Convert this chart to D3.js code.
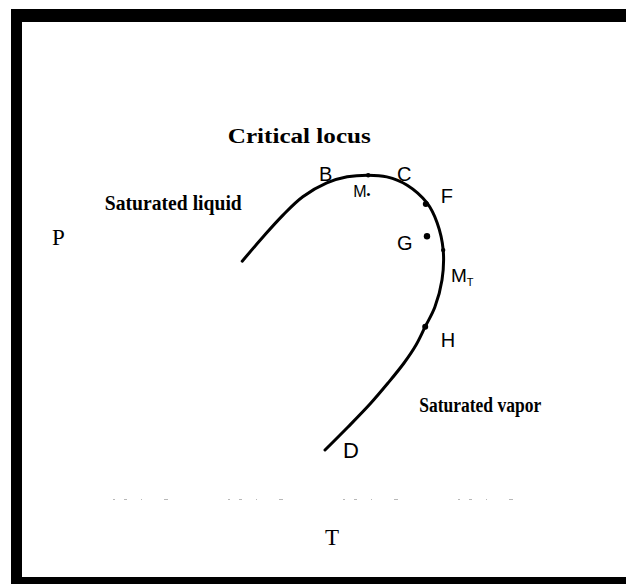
<!DOCTYPE html>
<html>
<head>
<meta charset="utf-8">
<script src="https://cdn.jsdelivr.net/npm/d3@7"></script>
<style>
  html, body { margin: 0; padding: 0; background: #fff; }
  svg { display: block; }
</style>
</head>
<body>
<svg id="chart" width="626" height="584"></svg>
<script>
// Phase envelope of a mixture in the P–T plane (arbitrary units, 0–100 on each axis)
const envelopeT = [36.7, 40.2, 43.5, 46.8, 50.8, 54.2, 57.7, 60.8, 64.2, 67.5, 69.2, 70.2, 70.0, 68.8, 67.2, 65.67, 63.67, 61.0, 58.0, 54.33, 50.5];
const envelopeP = [56.9, 61.3, 65.2, 68.5, 71.0, 72.1, 72.4, 72.1, 70.6, 67.4, 63.8, 58.9, 53.5, 48.6, 45.1, 41.8, 38.56, 34.95, 31.17, 27.03, 22.88];

// Marked states on the envelope (cricondenbar, F, cricondentherm, H)
const pointT = [57.7, 67.3, 70.2, 67.2];
const pointP = [72.4, 67.2, 58.9, 45.1];
const pointR = [2.2, 3, 2.2, 3];

// Isolated state G inside the envelope
const stateGT = [67.5];
const stateGP = [61.4];

// Letter labels for the states
const letterText = ["B", "C", "F", "G", "H", "D"];
const letterT = [49.5, 62.5, 69.8, 62.5, 69.8, 53.5];
const letterP = [71.4, 71.4, 67.4, 58.9, 41.4, 21.4];

// Region captions
const captionText = ["Critical locus", "Saturated liquid", "Saturated vapor"];
const captionT = [34.3, 13.8, 66.2];
const captionP = [78.2, 66.1, 29.7];
const captionWidth = [143, 137, 122];

const svg = d3.select("#chart");

const x = d3.scaleLinear().domain([0, 100]).range([22, 622]);
const y = d3.scaleLinear().domain([0, 100]).range([577, 22]);

// Frame: heavy top, left and bottom rules
svg.append("rect").attr("x", 11).attr("y", 9).attr("width", 615).attr("height", 13).attr("fill", "#000");
svg.append("rect").attr("x", 11).attr("y", 9).attr("width", 11).attr("height", 575).attr("fill", "#000");
svg.append("rect").attr("x", 11).attr("y", 577).attr("width", 615).attr("height", 7).attr("fill", "#000");

// Faint temperature axis
svg.append("line")
  .attr("x1", 113).attr("x2", 557).attr("y1", 499.5).attr("y2", 499.5)
  .attr("stroke", "#b8b8b8").attr("stroke-width", 1)
  .attr("stroke-dasharray", "2,9,3,14,1,22,4,60");

// Envelope curve
const envelope = envelopeT.map((t, i) => [t, envelopeP[i]]);
const line = d3.line()
  .x(d => x(d[0]))
  .y(d => y(d[1]))
  .curve(d3.curveCatmullRom.alpha(0.5));

svg.append("path")
  .datum(envelope)
  .attr("d", line)
  .attr("fill", "none")
  .attr("stroke", "#000")
  .attr("stroke-width", 3)
  .attr("stroke-linecap", "round");

// Points on the envelope
svg.selectAll("circle.pt")
  .data(pointT.map((t, i) => ({ t, p: pointP[i], r: pointR[i] })))
  .join("circle")
  .attr("class", "pt")
  .attr("cx", d => x(d.t))
  .attr("cy", d => y(d.p))
  .attr("r", d => d.r)
  .attr("fill", "#000");

// State G
svg.selectAll("circle.g")
  .data(stateGT.map((t, i) => ({ t, p: stateGP[i] })))
  .join("circle")
  .attr("class", "g")
  .attr("cx", d => x(d.t))
  .attr("cy", d => y(d.p))
  .attr("r", 3.2)
  .attr("fill", "#000");

// Letters
svg.selectAll("text.letter")
  .data(letterText.map((s, i) => ({ s, t: letterT[i], p: letterP[i] })))
  .join("text")
  .attr("class", "letter")
  .attr("x", d => x(d.t))
  .attr("y", d => y(d.p))
  .attr("font-family", "Liberation Sans, Arial, sans-serif")
  .attr("font-size", d => d.s === "D" ? 22 : 20)
  .attr("fill", "#000")
  .text(d => d.s);

// M with subscripts: cricondenbar (top) and cricondentherm (right)
const mp = svg.append("text")
  .attr("x", x(55.2)).attr("y", y(68.5))
  .attr("font-family", "Liberation Sans, Arial, sans-serif")
  .attr("font-size", 16).attr("fill", "#000");
mp.append("tspan").text("M");
mp.append("tspan").attr("font-size", 11).attr("dy", 1).text("•");

const mt = svg.append("text")
  .attr("x", x(71.5)).attr("y", y(53.2))
  .attr("font-family", "Liberation Sans, Arial, sans-serif")
  .attr("font-size", 19).attr("fill", "#000");
mt.append("tspan").text("M");
mt.append("tspan").attr("font-size", 11).attr("dy", 4).text("T");

// Region captions
svg.selectAll("text.caption")
  .data(captionText.map((s, i) => ({ s, t: captionT[i], p: captionP[i], w: captionWidth[i] })))
  .join("text")
  .attr("class", "caption")
  .attr("x", d => x(d.t))
  .attr("y", d => y(d.p))
  .attr("font-family", "Liberation Serif, Times New Roman, serif")
  .attr("font-weight", "bold")
  .attr("font-size", 20)
  .attr("textLength", d => d.w)
  .attr("lengthAdjust", "spacingAndGlyphs")
  .attr("fill", "#000")
  .text(d => d.s);

// Axis titles
svg.append("text")
  .attr("x", 52).attr("y", 245)
  .attr("font-family", "Liberation Serif, Times New Roman, serif")
  .attr("font-size", 23).attr("fill", "#000")
  .text("P");

svg.append("text")
  .attr("x", 325).attr("y", 545)
  .attr("font-family", "Liberation Serif, Times New Roman, serif")
  .attr("font-size", 23).attr("fill", "#000")
  .text("T");
</script>
</body>
</html>
